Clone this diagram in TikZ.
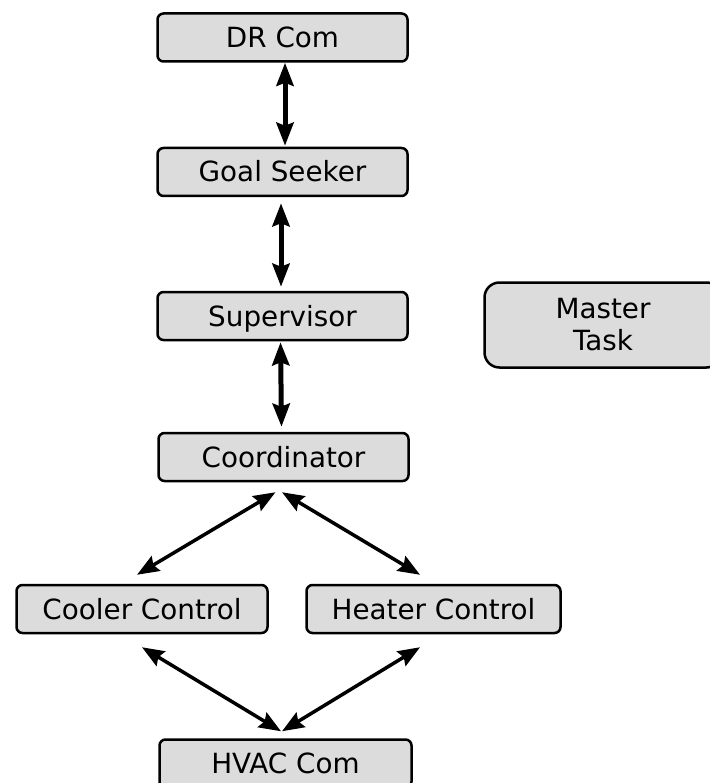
\documentclass[tikz,border=0pt]{standalone}
\usepackage{fontspec}
\setmainfont{DejaVu Sans}
\usetikzlibrary{arrows.meta}
\definecolor{boxfill}{RGB}{220,220,220}
\tikzset{
  task/.style={draw=black, fill=boxfill, line width=2.5pt, rounded corners=6pt,
    minimum width=250pt, minimum height=48pt, inner sep=0pt,
    font=\fontsize{27.8}{32}\selectfont, text height=20pt, text depth=0pt},
  vlink/.style={line width=5pt, {Stealth[length=23pt,width=17pt,inset=3pt]}-{Stealth[length=23pt,width=17pt,inset=3pt]}},
  dlink/.style={line width=3.5pt, {Stealth[length=22pt,width=17pt,inset=3pt]}-{Stealth[length=22pt,width=17pt,inset=3pt]}}
}
\begin{document}
\begin{tikzpicture}[x=1pt,y=-1pt]
\useasboundingbox (0,0) rectangle (709,783);
\node[task] (dr) at (282.5,37.5) {DR Com};
\node[task] (gs) at (282.5,172) {Goal Seeker};
\node[task] (sup) at (282.5,316) {Supervisor};
\node[task] (coord) at (283.5,457) {Coordinator};
\node[task, minimum width=251pt] (cool) at (142,609) {Cooler Control};
\node[task, minimum width=254pt] (heat) at (433.5,609) {Heater Control};
\node[task, minimum width=252pt] (hvac) at (285.5,763.5) {HVAC Com};
\node[task, minimum width=237pt, minimum height=85pt, rounded corners=15pt,
  text height=, text depth=, align=center] (master) at (603,325) {Master\\Task};
\draw[vlink] ([shift={(2.5,0)}]dr.south) -- ([shift={(2.5,-1)}]gs.north);
\draw[vlink] ([shift={(-1.5,6)}]gs.south) -- ([shift={(-1.5,-4)}]sup.north);
\draw[vlink] ([shift={(-2,1)}]sup.south) -- ([shift={(-2,-5)}]coord.north);
\draw[dlink] ([shift={(-8,10)}]coord.south) -- ([shift={(-5,-9)}]cool.north);
\draw[dlink] ([shift={(-1.5,10)}]coord.south) -- ([shift={(-13.5,-9)}]heat.north);
\draw[dlink] ([shift={(0,13)}]cool.south) -- ([shift={(-4.5,-7)}]hvac.north);
\draw[dlink] ([shift={(-13.5,13)}]heat.south) -- ([shift={(-3.5,-7)}]hvac.north);
\end{tikzpicture}
\end{document}
